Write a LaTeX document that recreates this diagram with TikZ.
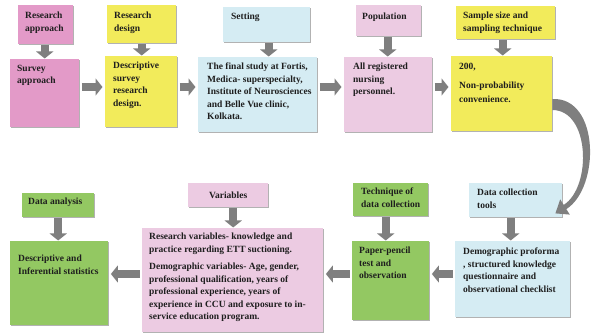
\documentclass[tikz,border=0pt]{standalone}
\usepackage{fontspec}
\setmainfont{Liberation Serif}
\usetikzlibrary{arrows.meta,shadows,calc}
\definecolor{pinkA}{HTML}{E39AC8}
\definecolor{yel}{HTML}{F2EB5B}
\definecolor{lblue}{HTML}{D5ECF3}
\definecolor{lpink}{HTML}{ECCBE2}
\definecolor{grn}{HTML}{93C862}
\definecolor{arrgray}{HTML}{7F7F7F}
\definecolor{txtc}{HTML}{1E1E1E}
\tikzset{
  bx/.style={inner sep=0pt, anchor=north west, draw=none,
    drop shadow={shadow xshift=1pt, shadow yshift=-1.2pt, opacity=0.3, fill=black}},
  tx/.style={inner sep=0pt, anchor=north west, align=left, text=txtc,
    font=\bfseries\fontsize{9.5}{12.5}\selectfont},
  barr/.style={draw=arrgray, line width=8pt, -{Triangle[width=17pt,length=7pt]},
    shorten <=2.5pt, shorten >=2.5pt},
}
\newcommand\mkbox[9]{%
  \node[bx, fill=#6, minimum width=#4pt, minimum height=#5pt] (#1) at (#2,#3) {};
  \node[tx] (#1t) at ([xshift=#7pt, yshift=-#8pt]#1.north west) {#9};}
\begin{document}
\begin{tikzpicture}[x=1pt, y=-1pt]
\useasboundingbox (0,0) rectangle (591,336);
\fill[white] (0,0) rectangle (591,336);
% top row
\mkbox{RA}{18}{5}{55}{39}{pinkA}{7}{7}{Research\\approach}
\mkbox{SA}{10}{59}{69}{68}{pinkA}{7}{6}{Survey\\approach}
\mkbox{RD}{107}{5}{69}{38}{yel}{7}{7}{Research\\design}
\mkbox{DS}{105}{56}{72}{71}{yel}{8}{6}{Descriptive\\survey\\research\\design.}
\mkbox{ST}{223}{7}{87}{35}{lblue}{8}{6}{Setting}
\mkbox{FS}{198}{57}{119}{75}{lblue}{9}{6}{\fontsize{9.5}{11.3}\selectfont The final study at Fortis,\\Medica- superspecialty,\\Institute of Neurosciences\\and Belle Vue clinic,\\Kolkata.}
\mkbox{PO}{356}{5}{65}{31}{lpink}{6}{8}{Population}
\mkbox{AR}{344}{57}{88}{75}{lpink}{9}{6}{All registered\\nursing\\personnel.}
\mkbox{SS}{456}{6}{99}{33}{yel}{7}{6}{Sample size and\\sampling technique}
\mkbox{TW}{451}{56}{101}{75}{yel}{8}{7}{200,\\[6pt]Non-probability\\[2pt]convenience.}
% bottom row
\mkbox{DCT}{469}{183}{93}{34}{lblue}{8}{6}{Data collection\\tools}
\mkbox{DP}{455}{241}{115}{76}{lblue}{8}{7}{\fontsize{9.5}{12}\selectfont Demographic proforma\\, structured knowledge\\questionnaire and\\observational checklist}
\mkbox{TDC}{353}{183}{75}{33}{grn}{8}{5}{Technique of\\data collection}
\mkbox{PP}{352}{241}{77}{79}{grn}{7}{6}{Paper-pencil\\test and\\observation}
\node[bx, fill=lpink, minimum width=80pt, minimum height=24pt] (VA) at (188,183) {};
\node[tx, anchor=center] (VAt) at (VA.center) {Variables};
\mkbox{VB}{142}{228}{181}{104}{lpink}{7}{5}{\fontsize{9.5}{11.5}\selectfont Research variables- knowledge and\\practice regarding ETT suctioning.\\[5pt]Demographic variables- Age, gender,\\professional qualification, years of\\professional experience, years of\\experience in CCU and exposure to in-\\service education program.}
\mkbox{DA}{22}{193}{72}{24}{grn}{6}{5}{Data analysis}
\mkbox{DI}{10}{241}{98}{84}{grn}{8}{14}{Descriptive and\\Inferential statistics}
% arrow levels
\coordinate (topY) at (0,87);
\coordinate (botY) at (0,274);
% down arrows
\draw[barr, shorten <=0.5pt, shorten >=0.5pt] ([xshift=-1pt]RA.south) -- ([xshift=-1pt]RA.south |- SA.north);
\draw[barr, shorten <=0.5pt, shorten >=0.5pt] (RD.south) -- (RD.south |- DS.north);
\draw[barr, shorten <=0.5pt, shorten >=0.5pt] ([xshift=2pt]ST.south) -- ([xshift=2pt]ST.south |- FS.north);
\draw[barr, shorten <=0.5pt, shorten >=0.5pt] ([xshift=-1pt]PO.south) -- ([xshift=-1pt]PO.south |- AR.north);
\draw[barr, shorten <=0.5pt, shorten >=0.5pt] ([xshift=-3pt]SS.south) -- ([xshift=-3pt]SS.south |- TW.north);
\draw[barr, shorten <=0.5pt, shorten >=0.5pt] ([xshift=-5pt]DCT.south) -- ([xshift=-5pt]DCT.south |- DP.north);
\draw[barr, shorten <=0.5pt, shorten >=0.5pt] ([xshift=-5pt]TDC.south) -- ([xshift=-5pt]TDC.south |- PP.north);
\draw[barr, shorten <=0.5pt, shorten >=0.5pt] ([xshift=5pt]VA.south) -- ([xshift=5pt]VA.south |- VB.north);
\draw[barr, shorten <=0.5pt, shorten >=0.5pt] (DA.south) -- (DA.south |- DI.north);
% horizontal arrows
\draw[barr] (SA.east |- topY) -- (DS.west |- topY);
\draw[barr] (DS.east |- topY) -- (FS.west |- topY);
\draw[barr] (FS.east |- topY) -- (AR.west |- topY);
\draw[barr] (AR.east |- topY) -- (TW.west |- topY);
\draw[barr] (DP.west |- botY) -- (PP.east |- botY);
\draw[barr] (PP.west |- botY) -- (VB.east |- botY);
\draw[barr] (VB.west |- botY) -- (DI.east |- botY);
% curved tapered arrow from TW to DCT
\coordinate (cs1) at (TW.east |- 0,99);
\coordinate (cs2) at (TW.east |- 0,110);
\coordinate (ctip) at ([xshift=-7pt,yshift=4pt]DCT.south east);
\fill[arrgray] (cs1) .. controls (600,97) and (600,188) .. (566.3,209.1)
  -- (569.8,214.6) -- (ctip) -- (560.2,199.4) -- (563.7,204.9)
  .. controls (592,187) and (590,110) .. (cs2) -- cycle;
\end{tikzpicture}
\end{document}
